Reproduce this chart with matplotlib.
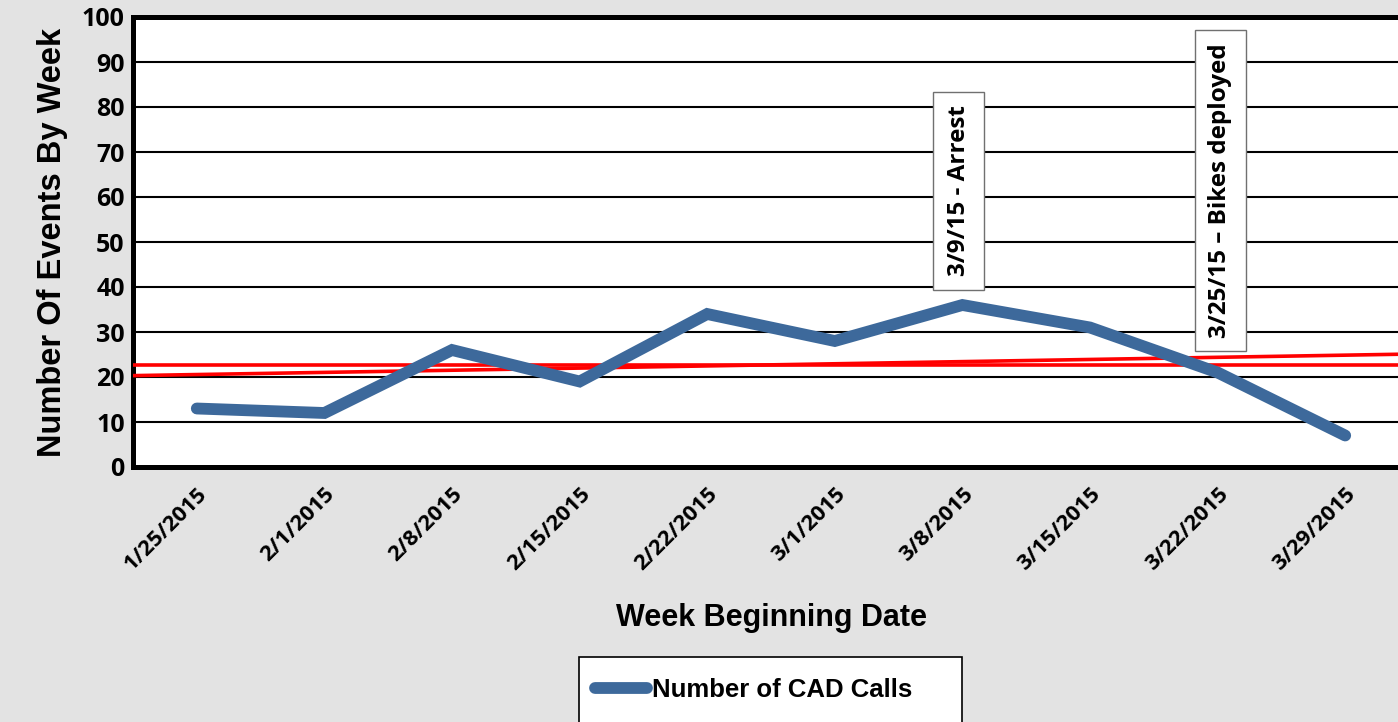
import numpy as np
import matplotlib.pyplot as plt
from matplotlib.patches import Rectangle

# datos semanales
weeks = ['1/25/2015', '2/1/2015', '2/8/2015', '2/15/2015', '2/22/2015',
         '3/1/2015', '3/8/2015', '3/15/2015', '3/22/2015', '3/29/2015']
cad_calls = [13, 12, 26, 19, 34, 28, 36, 31, 21, 7]

# notas de eventos (posicion de categoria, texto)
note_pos = [5.97, 8.02]
note_text = ['3/9/15 - Arrest', '3/25/15 \u2013 Bikes deployed']

bg = '#e3e3e3'
blue = '#3d699b'
cal = 'Open Sans'

fig = plt.figure(figsize=(13.98, 7.22), dpi=100, facecolor=bg)
ax = fig.add_axes([133/1398, 1 - 467/722, (1409 - 133)/1398, 450/722])
ax.set_facecolor('white')

x = np.arange(len(weeks))
y = np.array(cad_calls)

# promedio y tendencia lineal
xs = np.array([-0.5, len(weeks) - 0.5])
mean = y.mean()
m, b = np.polyfit(x, y, 1)
ax.plot(xs, [mean, mean], color='#ff0000', lw=2.6, zorder=3)
ax.plot(xs, m * xs + b, color='#ff0000', lw=2.6, zorder=3)

ax.plot(x, y, color=blue, lw=8.5, solid_capstyle='round',
        solid_joinstyle='miter', zorder=4, label='Number of CAD Calls')

ax.set_xlim(-0.5, len(weeks) - 0.5)
ax.set_ylim(0, 100)
ax.set_yticks(range(0, 101, 10))
ax.set_xticks(x)
ax.set_xticklabels(weeks, rotation=45, ha='right', rotation_mode='anchor',
                   fontsize=16, fontweight='bold', family=cal)
for t in ax.get_yticklabels():
    t.set_fontsize(18)
    t.set_fontweight('bold')
    t.set_family(cal)
ax.tick_params(axis='both', length=0, pad=6)
ax.tick_params(axis='x', pad=12)

ax.grid(axis='y', color='black', lw=1.5, zorder=1)
ax.set_axisbelow(True)
for s in ['left', 'bottom', 'top']:
    ax.spines[s].set_linewidth(3.6)
    ax.spines[s].set_color('black')
ax.spines['right'].set_visible(False)

ax.set_ylabel('Number Of Events By Week', fontsize=23.5, fontweight='bold',
              family='Liberation Sans', labelpad=10)
fig.text(771/1398, 1 - 618/722, 'Week Beginning Date', fontsize=22,
         fontweight='bold', family='Liberation Sans', ha='center', va='center')

for px, txt in zip(note_pos, note_text):
    ax.text(px, 61.4, txt, rotation=90, ha='center', va='center', fontsize=17.5,
            fontweight='bold', family=cal, zorder=6,
            bbox=dict(boxstyle='square,pad=0.55', fc='white', ec='#707070', lw=1))

# leyenda
fig.patches.append(Rectangle((579/1398, -0.05), (962 - 579)/1398, 0.05 + 65/722,
                             transform=fig.transFigure, fc='white', ec='black', lw=1.2))
fig.legend(loc='center left', bbox_to_anchor=(572/1398, 1 - 690/722), frameon=False,
           prop={'family': 'Liberation Sans', 'weight': 'bold', 'size': 18.5},
           handlelength=2.0, handletextpad=0.2)

plt.savefig('out.png', dpi=100, facecolor=bg)
